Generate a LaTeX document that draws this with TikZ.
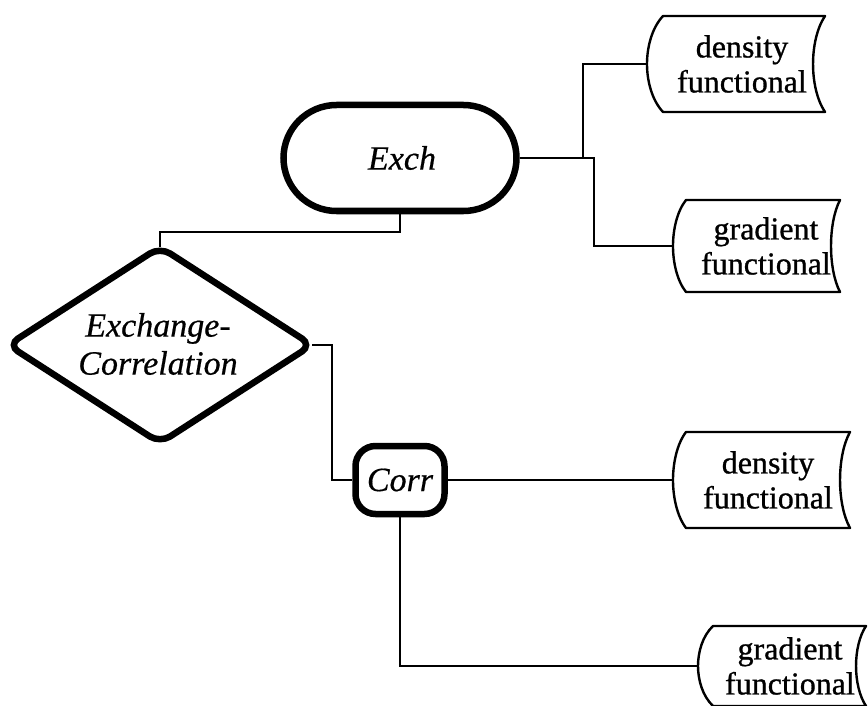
\documentclass[tikz,border=0pt]{standalone}
\usepackage{fontspec}
\setmainfont{Liberation Serif}
\newfontfamily\boxserif{Liberation Serif}[FakeBold=0.9]
\newfontfamily\itserif{Liberation Serif Italic}[FakeBold=0.5]
\tikzset{
  thickbox/.style={draw=black, line width=6.5pt, fill=white, inner sep=0pt},
  conn/.style={draw=black, line width=2.4pt, line join=miter},
  bbox/.style={draw=black, line width=2.4pt, line join=round},
  lbl/.style={font=\fontsize{34}{38}\selectfont\itserif, align=center, inner sep=0pt},
  rlbl/.style={font=\fontsize{32}{35}\selectfont\boxserif, align=center, inner sep=0pt},
}
\newcommand{\brackbox}[6]{%
  \draw[bbox] (#3,#2-#5) -- (#4,#2-#5)
    .. controls (#4-1.33*#6,#2-0.5*#5) and (#4-1.33*#6,#2+0.5*#5) .. (#4,#2+#5)
    -- (#3,#2+#5)
    .. controls (#1+0.3*#3-0.3*#1,#2+0.75*#5) and (#1,#2+0.35*#5) .. (#1,#2)
    .. controls (#1,#2-0.35*#5) and (#1+0.3*#3-0.3*#1,#2-0.75*#5) .. cycle;}
\begin{document}
\begin{tikzpicture}[x=1pt,y=-1pt]
\useasboundingbox (0,0) rectangle (868,706);
% right bracket boxes
\coordinate (b1tip) at (647,64);
\coordinate (b2tip) at (673,246);
\coordinate (b3tip) at (673,480);
\coordinate (b4tip) at (698,666);
\brackbox{647}{64}{663}{825}{48}{12}
\brackbox{673}{246}{686}{840}{46}{9}
\brackbox{673}{480}{686}{850}{48}{10}
\brackbox{698}{666}{713}{866}{40}{10}
\node[rlbl] (t1) at (742,64) {density\\functional};
\node[rlbl] (t2) at (766,246) {gradient\\functional};
\node[rlbl] (t3) at (768,480) {density\\functional};
\node[rlbl] (t4) at (790,666) {gradient\\functional};
% Exch
\node[thickbox, rectangle, rounded corners=53pt, minimum width=233pt, minimum height=106pt] (exch) at (400,158) {};
\node[lbl] (exchlbl) at (402,158) {Exch};
% Corr
\node[thickbox, rectangle, rounded corners=20pt, minimum width=89pt, minimum height=68pt] (corr) at (400,480) {};
\node[lbl] (corrlbl) at (400,480) {Corr};
% diamond
\coordinate (dleft) at (8,345);
\coordinate (dtop) at (160,247);
\coordinate (dright) at (312,345);
\coordinate (dbot) at (160,443);
\draw[line width=6.5pt, rounded corners=12pt, fill=white] (dleft) -- (dtop) -- (dright) -- (dbot) -- cycle;
\node[lbl] (xc) at (158,344) {Exchange-\\Correlation};
% connectors
\draw[conn] (dtop) -- ++(0,-15) -| (exch.south);
\draw[conn] (dright) -- (332,345) |- (corr.west);
\draw[conn] (exch.east) -- (594,158) |- (b2tip);
\draw[conn] (583,158) |- (b1tip);
\draw[conn] (corr.east) -- (b3tip);
\draw[conn] (corr.south) |- (b4tip);
\end{tikzpicture}
\end{document}
